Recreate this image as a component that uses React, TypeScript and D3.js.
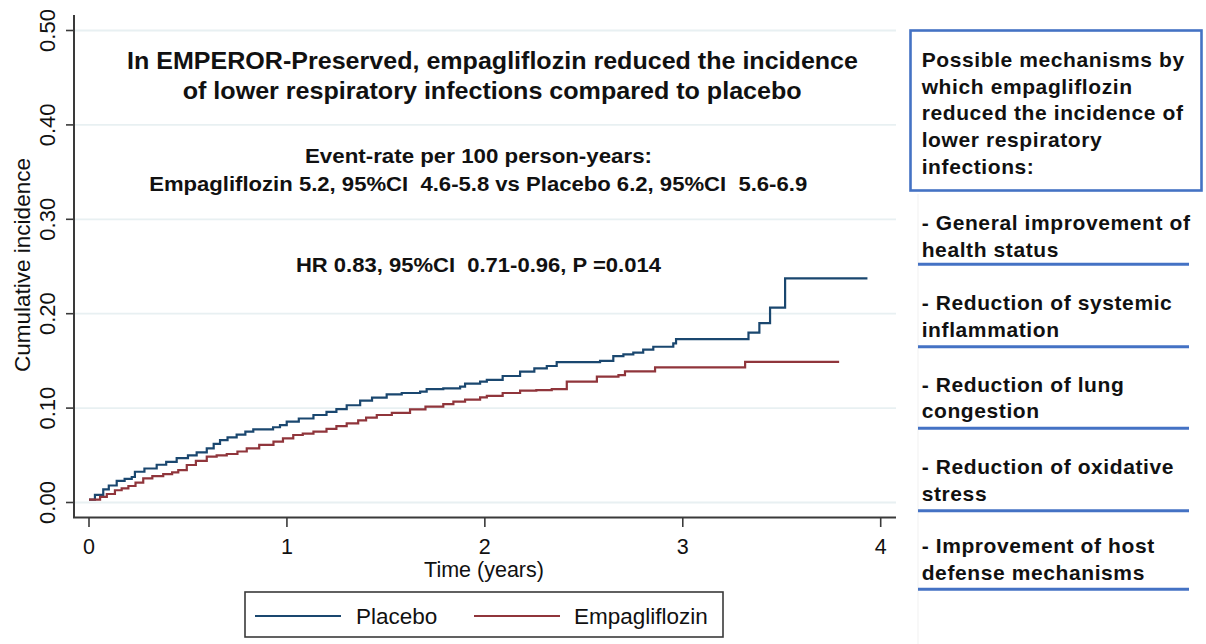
import React from "react";
import * as d3 from "d3";

const yTicks = [0, 0.1, 0.2, 0.3, 0.4, 0.5];
const xTicks = [0, 1, 2, 3, 4];

const placeboTime = [0, 0.03, 0.072, 0.1, 0.14, 0.18, 0.216, 0.232, 0.28, 0.342, 0.39, 0.443, 0.5, 0.544, 0.595, 0.63, 0.662, 0.7, 0.746, 0.79, 0.83, 0.93, 0.965, 0.999, 1.06, 1.134, 1.2, 1.25, 1.302, 1.37, 1.43, 1.504, 1.58, 1.673, 1.706, 1.79, 1.875, 1.9, 1.976, 2.01, 2.09, 2.178, 2.25, 2.313, 2.363, 2.582, 2.649, 2.7, 2.75, 2.8, 2.851, 2.952, 2.966, 3.332, 3.387, 3.441, 3.517, 3.933];
const placeboInc = [0.003, 0.008, 0.014, 0.018, 0.023, 0.025, 0.027, 0.0326, 0.036, 0.04, 0.043, 0.047, 0.05, 0.053, 0.0574, 0.062, 0.066, 0.069, 0.072, 0.075, 0.0775, 0.0797, 0.082, 0.0856, 0.089, 0.0927, 0.096, 0.099, 0.103, 0.108, 0.111, 0.1146, 0.116, 0.1174, 0.12, 0.121, 0.1227, 0.126, 0.128, 0.1298, 0.134, 0.1386, 0.142, 0.1446, 0.1488, 0.15, 0.155, 0.157, 0.1587, 0.162, 0.165, 0.1686, 0.173, 0.18, 0.19, 0.2064, 0.2375, 0.2375];

const empaTime = [0, 0.056, 0.09, 0.131, 0.165, 0.199, 0.235, 0.274, 0.32, 0.375, 0.42, 0.451, 0.494, 0.54, 0.595, 0.645, 0.696, 0.75, 0.797, 0.86, 0.932, 0.98, 1.032, 1.08, 1.134, 1.2, 1.25, 1.302, 1.36, 1.4, 1.454, 1.53, 1.622, 1.7, 1.79, 1.841, 1.9, 1.976, 2.01, 2.09, 2.178, 2.26, 2.338, 2.414, 2.566, 2.675, 2.708, 2.86, 3.315, 3.79];
const empaInc = [0.003, 0.006, 0.009, 0.013, 0.015, 0.0175, 0.021, 0.0256, 0.028, 0.03, 0.032, 0.0344, 0.0397, 0.044, 0.0485, 0.05, 0.0514, 0.054, 0.0574, 0.061, 0.0644, 0.068, 0.0715, 0.073, 0.075, 0.078, 0.081, 0.0839, 0.087, 0.09, 0.0927, 0.095, 0.0987, 0.1015, 0.1043, 0.1068, 0.109, 0.1114, 0.113, 0.116, 0.1185, 0.119, 0.12, 0.128, 0.1333, 0.135, 0.139, 0.1432, 0.149, 0.149];

const titleLines = [
  "In EMPEROR-Preserved, empagliflozin reduced the incidence",
  "of lower respiratory infections compared to placebo",
];
const rateLines = [
  "Event-rate per 100 person-years:",
  "Empagliflozin 5.2, 95%CI\u00a0 4.6-5.8 vs Placebo 6.2, 95%CI\u00a0 5.6-6.9",
];
const hrLine = "HR 0.83, 95%CI\u00a0 0.71-0.96, P =0.014";

const boxLines = [
  "Possible mechanisms by",
  "which empagliflozin",
  "reduced the incidence of",
  "lower respiratory",
  "infections:",
];
const mechanisms = [
  ["- General improvement of", "health status"],
  ["- Reduction of systemic", "inflammation"],
  ["- Reduction of lung", "congestion"],
  ["- Reduction of oxidative", "stress"],
  ["- Improvement of host", "defense mechanisms"],
];
const legendLabels = ["Placebo", "Empagliflozin"];

const BLUE = "#1a476f";
const RED = "#90353b";
const PANEL = "#4472c4";
const FONT = "'Liberation Sans', Arial, sans-serif";

export default function App() {
  const x = d3.scaleLinear().domain([0, 4]).range([89, 880.7]);
  const y = d3.scaleLinear().domain([0, 0.5]).range([502.5, 30.5]);
  const line = d3
    .line<[number, number]>()
    .x((d) => x(d[0]))
    .y((d) => y(d[1]))
    .curve(d3.curveStepAfter);
  const placebo = placeboTime.map((t, i) => [t, placeboInc[i]] as [number, number]);
  const empa = empaTime.map((t, i) => [t, empaInc[i]] as [number, number]);

  const mechBase = [230, 310, 391.7, 474, 553.3];
  const mechUnder = [264.3, 346.7, 428.3, 510.7, 589.3];
  const panelText = { fontSize: 21, fontWeight: "bold" as const, fill: "#111", letterSpacing: 0.6 };

  return (
    <svg
      width={1206}
      height={644}
      style={{ position: "absolute", left: 0, top: 0, background: "#fff" }}
      fontFamily={FONT}
    >
      <rect x={0} y={0} width={1206} height={644} fill="#fff" />
      {/* grid */}
      {yTicks.map((t) => (
        <line key={"g" + t} x1={75} x2={896} y1={y(t)} y2={y(t)} stroke="#e8f0f2" strokeWidth={1.8} />
      ))}
      {/* axes */}
      <line x1={74} x2={74} y1={15} y2={518} stroke="#3a3a3a" strokeWidth={2} />
      <line x1={73} x2={896} y1={517.5} y2={517.5} stroke="#3a3a3a" strokeWidth={2} />
      {yTicks.map((t) => (
        <g key={"yt" + t}>
          <line x1={66} x2={74} y1={y(t)} y2={y(t)} stroke="#3a3a3a" strokeWidth={1.6} />
          <text
            transform={`translate(55,${y(t)}) rotate(-90)`}
            textAnchor="middle"
            fontSize={22}
            fill="#111"
          >
            {d3.format(".2f")(t)}
          </text>
        </g>
      ))}
      {xTicks.map((t) => (
        <g key={"xt" + t}>
          <line x1={x(t)} x2={x(t)} y1={517.5} y2={527} stroke="#3a3a3a" strokeWidth={1.6} />
          <text x={x(t)} y={554} textAnchor="middle" fontSize={21.5} fill="#111">
            {t}
          </text>
        </g>
      ))}
      <text x={484} y={577} textAnchor="middle" fontSize={21.5} fill="#111">
        Time (years)
      </text>
      <text transform="translate(30,265) rotate(-90)" textAnchor="middle" fontSize={22.5} fill="#111">
        Cumulative incidence
      </text>

      {/* curves */}
      <path d={line(placebo) || ""} fill="none" stroke={BLUE} strokeWidth={2.2} />
      <path d={line(empa) || ""} fill="none" stroke={RED} strokeWidth={2.2} />

      {/* annotations */}
      <text x={492.5} y={69.3} textAnchor="middle" fontSize={24.5} fontWeight="bold" fill="#111" textLength={731} lengthAdjust="spacingAndGlyphs">
        {titleLines[0]}
      </text>
      <text x={492.2} y={99.3} textAnchor="middle" fontSize={24.5} fontWeight="bold" fill="#111" textLength={619} lengthAdjust="spacingAndGlyphs">
        {titleLines[1]}
      </text>
      <text x={478.5} y={163.3} textAnchor="middle" fontSize={19.5} fontWeight="bold" fill="#111" textLength={347} lengthAdjust="spacingAndGlyphs">
        {rateLines[0]}
      </text>
      <text x={478.2} y={190.7} textAnchor="middle" fontSize={19.5} fontWeight="bold" fill="#111" textLength={658} lengthAdjust="spacingAndGlyphs">
        {rateLines[1]}
      </text>
      <text x={478.4} y={271.7} textAnchor="middle" fontSize={19.5} fontWeight="bold" fill="#111" textLength={365} lengthAdjust="spacingAndGlyphs">
        {hrLine}
      </text>

      {/* legend */}
      <rect x={245} y={592} width={478} height={45} fill="#fff" stroke="#3a3a3a" strokeWidth={1.6} />
      <line x1={255} x2={341} y1={616} y2={616} stroke={BLUE} strokeWidth={2} />
      <text x={356} y={624} fontSize={22.5} fill="#111">
        {legendLabels[0]}
      </text>
      <line x1={474} x2={560} y1={616} y2={616} stroke={RED} strokeWidth={2} />
      <text x={574} y={624} fontSize={22.5} fill="#111">
        {legendLabels[1]}
      </text>

      {/* right panel */}
      <line x1={918} x2={918} y1={194} y2={644} stroke="#f1f1f1" strokeWidth={1} />
      <rect x={910.5} y={30.5} width={291} height={160} fill="#fff" stroke={PANEL} strokeWidth={2.6} />
      {boxLines.map((s, i) => (
        <text key={"b" + i} x={921.7} y={66.7 + i * 26.8} {...panelText}>
          {s}
        </text>
      ))}
      {mechanisms.map((m, i) => (
        <g key={"m" + i}>
          <text x={921.7} y={mechBase[i]} {...panelText}>
            {m[0]}
          </text>
          <text x={921.7} y={mechBase[i] + 26.6} {...panelText}>
            {m[1]}
          </text>
          <line x1={918} x2={1189} y1={mechUnder[i]} y2={mechUnder[i]} stroke={PANEL} strokeWidth={3} />
        </g>
      ))}
    </svg>
  );
}
